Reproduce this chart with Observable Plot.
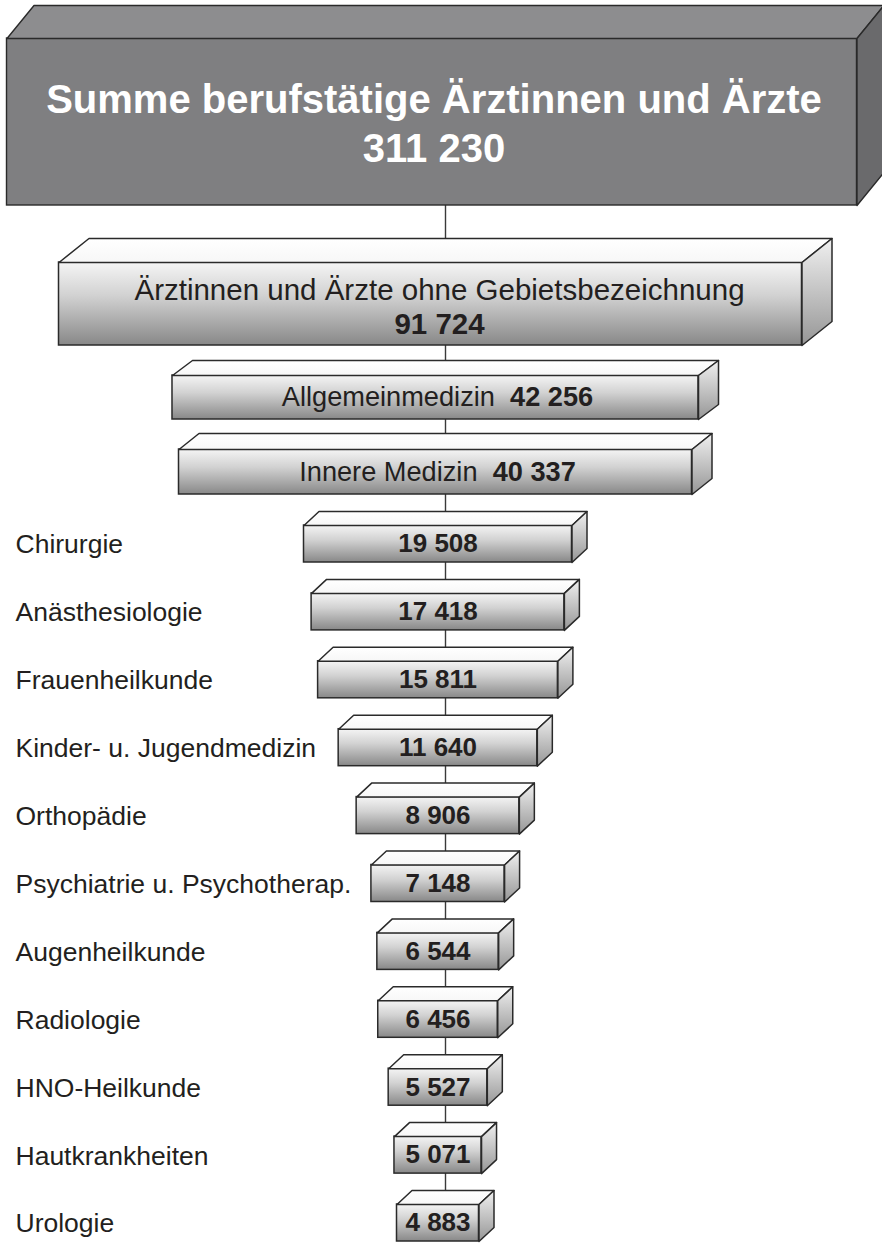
<!DOCTYPE html>
<html><head><meta charset="utf-8">
<script src="https://cdn.jsdelivr.net/npm/d3@7"></script>
<script src="https://cdn.jsdelivr.net/npm/@observablehq/plot@0.6"></script>
<style>body{margin:0;background:#fff} svg{display:block}</style>
</head><body><div id="chart"></div>
<script>
// ---------- data ----------
const totalLabel = "Summe berufstätige Ärztinnen und Ärzte";
const totalValue = 311230;
const mainLabels = ["Ärztinnen und Ärzte ohne Gebietsbezeichnung", "Allgemeinmedizin", "Innere Medizin"];
const mainValues = [91724, 42256, 40337];
const specialties = ["Chirurgie", "Anästhesiologie", "Frauenheilkunde", "Kinder- u. Jugendmedizin", "Orthopädie",
  "Psychiatrie u. Psychotherap.", "Augenheilkunde", "Radiologie", "HNO-Heilkunde", "Hautkrankheiten", "Urologie"];
const specialtyValues = [19508, 17418, 15811, 11640, 8906, 7148, 6544, 6456, 5527, 5071, 4883];

// ---------- layout ----------
const W = 882, H = 1243, CX = 445;
const FONT = "'Liberation Sans', Arial, Helvetica, sans-serif";
const fmt = v => d3.format(",")(v).replace(/,/g, " ");

const mainWidth = Plot.scale({x: {type: "log", domain: [40337, 91724], range: [513, 743]}});
const specWidth = Plot.scale({x: {type: "log", domain: [4883, 19508], range: [82, 268]}});
const specTop = Plot.scale({y: {type: "point", domain: specialties, range: [525, 1204], padding: 0}});

const boxes = [];
function addBox(id, w, y1, y2, dx, dy, kind) {
  const x1 = CX - (w + dx) / 2;
  boxes.push({id, x1, x2: x1 + w, y1, y2, dx, dy, kind});
}
addBox("total", W - 32, 38, 205, 27, 33, "dark");
const mainRows = [[262, 345, 30, 24], [375, 419, 20, 15], [449, 494, 20, 16]];
mainLabels.forEach((l, i) => addBox(l, mainWidth.apply(mainValues[i]), ...mainRows[i], "light"));
specialties.forEach((s, i) => {
  const t = specTop.apply(s);
  addBox(s, specWidth.apply(specialtyValues[i]), t, t + 37, 15, 14, "light");
});

const topFaces = [], sideFaces = [];
for (const b of boxes) {
  const {x1, x2, y1, y2, dx, dy, id, kind} = b;
  [[x1, y1], [x1 + dx, y1 - dy], [x2 + dx, y1 - dy], [x2, y1], [x1, y1]]
    .forEach(([x, y]) => topFaces.push({id, kind, x, y}));
  [[x2, y1], [x2 + dx, y1 - dy], [x2 + dx, y2 - dy], [x2, y2], [x2, y1]]
    .forEach(([x, y]) => sideFaces.push({id, kind, x, y}));
}
const byKind = (arr, k) => arr.filter(d => d.kind === k);
const light = boxes.filter(b => b.kind === "light");
const dark = boxes.filter(b => b.kind === "dark");
const fc = b => (b.x1 + b.x2) / 2, fm = b => (b.y1 + b.y2) / 2;

// text measuring for mixed-weight lines
const ctx = document.createElement("canvas").getContext("2d");
function measure(t, size, weight) { ctx.font = `${weight} ${size}px ${FONT}`; return ctx.measureText(t).width; }

const MIX = 27.2;
const mixed = [];
[1, 2].forEach(i => {
  const b = boxes[i + 1];
  const name = mainLabels[i], num = fmt(mainValues[i]);
  const wn = measure(name, MIX, "normal"), wg = measure("  ", MIX, "normal"), wv = measure(num, MIX, "bold");
  const start = fc(b) + 2 - (wn + wg + wv) / 2;
  mixed.push({x: start, y: fm(b), text: name, weight: "normal"});
  mixed.push({x: start + wn + wg, y: fm(b), text: num, weight: "bold"});
});

const specs = specialties.map((s, i) => {
  const b = boxes[i + 4];
  return {name: s, num: fmt(specialtyValues[i]), cx: fc(b), cy: fm(b)};
});
const tb = boxes[0], ob = boxes[1];

const stroke = "#2a2a2a";
const ink = "#231f20";
const chart = Plot.plot({
  width: W, height: H, margin: 0,
  x: {domain: [0, W], range: [0, W], axis: null},
  y: {domain: [0, H], range: [0, H], axis: null},
  style: {fontFamily: FONT, background: "white"},
  marks: [
    Plot.ruleX([CX], {y1: tb.y2, y2: boxes[boxes.length - 1].y1, stroke: "#3a3a3a", strokeWidth: 1.4}),
    // dark total box
    Plot.rect(dark, {x1: "x1", x2: "x2", y1: "y1", y2: "y2", fill: "#7f7f81", stroke, strokeWidth: 1.4}),
    Plot.line(byKind(topFaces, "dark"), {x: "x", y: "y", z: "id", fill: "#8d8d8f", stroke, strokeWidth: 1.4, curve: "linear"}),
    Plot.line(byKind(sideFaces, "dark"), {x: "x", y: "y", z: "id", fill: "#6a6a6c", stroke, strokeWidth: 1.4, curve: "linear"}),
    // light boxes
    Plot.rect(light, {x1: "x1", x2: "x2", y1: "y1", y2: "y2", fill: "url(#gFront)", stroke, strokeWidth: 1.5}),
    Plot.line(byKind(topFaces, "light"), {x: "x", y: "y", z: "id", fill: "url(#gTop)", stroke, strokeWidth: 1.5, curve: "linear"}),
    Plot.line(byKind(sideFaces, "light"), {x: "x", y: "y", z: "id", fill: "url(#gSide)", stroke, strokeWidth: 1.5, curve: "linear"}),
    // texts
    Plot.text([totalLabel], {x: fc(tb) + 2, y: 100, text: d => d, fill: "white", fontSize: 40, fontWeight: "bold"}),
    Plot.text([totalValue], {x: fc(tb) + 2, y: 149, text: d => fmt(d), fill: "white", fontSize: 40, fontWeight: "bold"}),
    Plot.text([mainLabels[0]], {x: fc(ob) + 9, y: 290, text: d => d, fill: ink, fontSize: 29.5}),
    Plot.text([mainValues[0]], {x: fc(ob) + 9, y: 324, text: d => fmt(d), fill: ink, fontSize: 29.5, fontWeight: "bold"}),
    Plot.text(mixed.filter(d => d.weight === "normal"), {x: "x", y: "y", text: "text", textAnchor: "start", fill: ink, fontSize: MIX}),
    Plot.text(mixed.filter(d => d.weight === "bold"), {x: "x", y: "y", text: "text", textAnchor: "start", fill: ink, fontSize: MIX, fontWeight: "bold"}),
    Plot.text(specs, {x: "cx", y: "cy", text: "num", fill: ink, fontSize: 26, fontWeight: "bold"}),
    Plot.text(specs, {x: 15, y: "cy", dy: 1, text: "name", textAnchor: "start", fill: ink, fontSize: 26.5})
  ]
});

d3.select(chart).insert("defs", ":first-child").html(`
  <linearGradient id="gFront" x1="0" y1="0" x2="0" y2="1">
    <stop offset="0" stop-color="#f5f5f5"/><stop offset="0.4" stop-color="#d2d2d2"/><stop offset="1" stop-color="#888888"/>
  </linearGradient>
  <linearGradient id="gTop" x1="0" y1="0" x2="0" y2="1">
    <stop offset="0" stop-color="#ffffff"/><stop offset="1" stop-color="#f7f7f7"/>
  </linearGradient>
  <linearGradient id="gSide" x1="0" y1="0" x2="0" y2="1">
    <stop offset="0" stop-color="#f0f0f0"/><stop offset="1" stop-color="#969696"/>
  </linearGradient>`);
document.getElementById("chart").append(chart);
</script>
</body></html>
